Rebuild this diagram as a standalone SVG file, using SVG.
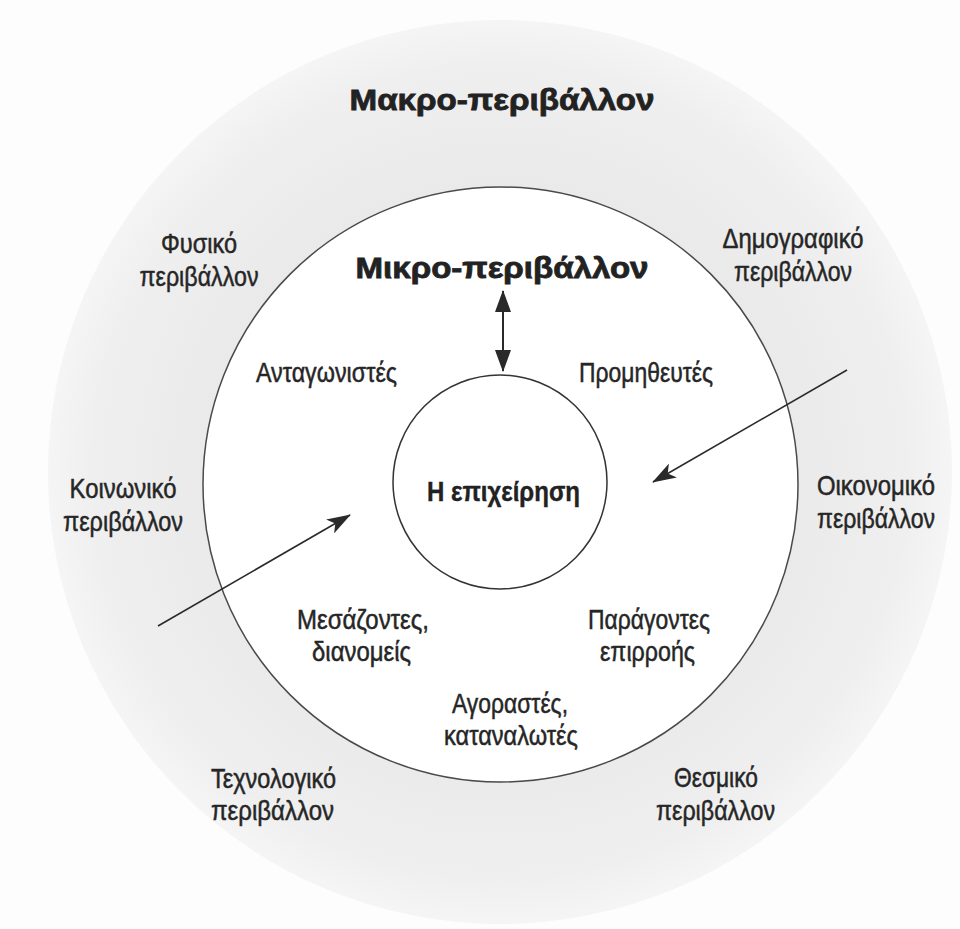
<svg xmlns="http://www.w3.org/2000/svg" width="960" height="929" viewBox="0 0 960 929">
  <style>
    .lbl { font-family: "Liberation Sans", "DejaVu Sans", sans-serif; font-size: 28px; fill: #262626; stroke: #262626; stroke-width: 0.5px; text-anchor: middle; }
    .ttl { font-family: "Liberation Sans", "DejaVu Sans", sans-serif; font-size: 30px; font-weight: bold; fill: #222; stroke: #222; stroke-width: 0.8px; text-anchor: middle; }
    .core { font-family: "Liberation Sans", "DejaVu Sans", sans-serif; font-size: 27px; font-weight: bold; fill: #222; stroke: #222; stroke-width: 0.4px; text-anchor: middle; }
    .conn { stroke: #2a2a2a; fill: none; }
  </style>
  <defs>
    <radialGradient id="ringFill" cx="500" cy="472" r="452" gradientUnits="userSpaceOnUse">
      <stop offset="0.6" stop-color="#e9e9e9"/>
      <stop offset="0.9" stop-color="#efefef"/>
      <stop offset="1" stop-color="#f5f5f5"/>
    </radialGradient>
    <marker id="headPlain" viewBox="0 0 22 16" refX="21" refY="8" markerWidth="22" markerHeight="16" markerUnits="userSpaceOnUse" orient="auto-start-reverse">
      <path d="M0,0 L22,8 L0,16 z" fill="#2a2a2a"/>
    </marker>
    <marker id="headBarb" viewBox="0 0 24 16" refX="23" refY="8" markerWidth="24" markerHeight="16" markerUnits="userSpaceOnUse" orient="auto">
      <path d="M0,0 L24,8 L0,16 L6,8 z" fill="#2a2a2a"/>
    </marker>
  </defs>

  <rect x="0" y="0" width="960" height="929" fill="#fdfdfd"/>

  <g id="macro-environment">
    <circle cx="500" cy="472" r="452" fill="url(#ringFill)"/>
    <text class="ttl" x="502" y="110" textLength="305" lengthAdjust="spacingAndGlyphs">Μακρο-περιβάλλον</text>
  </g>

  <g id="micro-environment">
    <circle cx="500.5" cy="484.5" r="297.5" fill="#ffffff" stroke="#4a4a4a" stroke-width="1.5"/>
    <text class="ttl" x="502" y="278" textLength="293" lengthAdjust="spacingAndGlyphs">Μικρο-περιβάλλον</text>
  </g>

  <g id="company">
    <circle cx="500" cy="482" r="107" fill="#ffffff" stroke="#333" stroke-width="1.5"/>
    <text class="core" x="503.5" y="501" textLength="153" lengthAdjust="spacingAndGlyphs">Η επιχείρηση</text>
  </g>

  <g id="physical">
    <text class="lbl" x="199" y="253" textLength="76" lengthAdjust="spacingAndGlyphs">Φυσικό</text>
    <text class="lbl" x="199" y="286" textLength="119" lengthAdjust="spacingAndGlyphs">περιβάλλον</text>
  </g>
  <g id="demographic">
    <text class="lbl" x="793" y="248" textLength="141" lengthAdjust="spacingAndGlyphs">Δημογραφικό</text>
    <text class="lbl" x="793" y="281" textLength="118" lengthAdjust="spacingAndGlyphs">περιβάλλον</text>
  </g>
  <g id="social">
    <text class="lbl" x="123" y="498" textLength="107" lengthAdjust="spacingAndGlyphs">Κοινωνικό</text>
    <text class="lbl" x="123" y="531" textLength="120" lengthAdjust="spacingAndGlyphs">περιβάλλον</text>
  </g>
  <g id="economic">
    <text class="lbl" x="876" y="495" textLength="118" lengthAdjust="spacingAndGlyphs">Οικονομικό</text>
    <text class="lbl" x="876" y="528" textLength="118" lengthAdjust="spacingAndGlyphs">περιβάλλον</text>
  </g>
  <g id="technological">
    <text class="lbl" x="273.5" y="788" textLength="125" lengthAdjust="spacingAndGlyphs">Τεχνολογικό</text>
    <text class="lbl" x="272.5" y="820" textLength="123" lengthAdjust="spacingAndGlyphs">περιβάλλον</text>
  </g>
  <g id="institutional">
    <text class="lbl" x="716" y="787" textLength="84" lengthAdjust="spacingAndGlyphs">Θεσμικό</text>
    <text class="lbl" x="715.5" y="820" textLength="119" lengthAdjust="spacingAndGlyphs">περιβάλλον</text>
  </g>

  <g id="competitors">
    <text class="lbl" x="326.5" y="382" textLength="141" lengthAdjust="spacingAndGlyphs">Ανταγωνιστές</text>
  </g>
  <g id="suppliers">
    <text class="lbl" x="646" y="382" textLength="134" lengthAdjust="spacingAndGlyphs">Προμηθευτές</text>
  </g>
  <g id="intermediaries">
    <text class="lbl" x="363" y="629" textLength="132" lengthAdjust="spacingAndGlyphs">Μεσάζοντες,</text>
    <text class="lbl" x="361.5" y="661" textLength="99" lengthAdjust="spacingAndGlyphs">διανομείς</text>
  </g>
  <g id="influencers">
    <text class="lbl" x="649" y="629" textLength="122" lengthAdjust="spacingAndGlyphs">Παράγοντες</text>
    <text class="lbl" x="647.5" y="661" textLength="95" lengthAdjust="spacingAndGlyphs">επιρροής</text>
  </g>
  <g id="customers">
    <text class="lbl" x="510" y="713" textLength="116" lengthAdjust="spacingAndGlyphs">Αγοραστές,</text>
    <text class="lbl" x="511" y="745" textLength="134" lengthAdjust="spacingAndGlyphs">καταναλωτές</text>
  </g>

  <g id="connectors">
    <line class="conn" x1="503" y1="291" x2="503" y2="371" stroke-width="2" marker-start="url(#headPlain)" marker-end="url(#headPlain)"/>
    <line class="conn" x1="847" y1="370" x2="653" y2="482" stroke-width="1.6" marker-end="url(#headBarb)"/>
    <line class="conn" x1="158" y1="626" x2="350" y2="515" stroke-width="1.6" marker-end="url(#headBarb)"/>
  </g>
</svg>
